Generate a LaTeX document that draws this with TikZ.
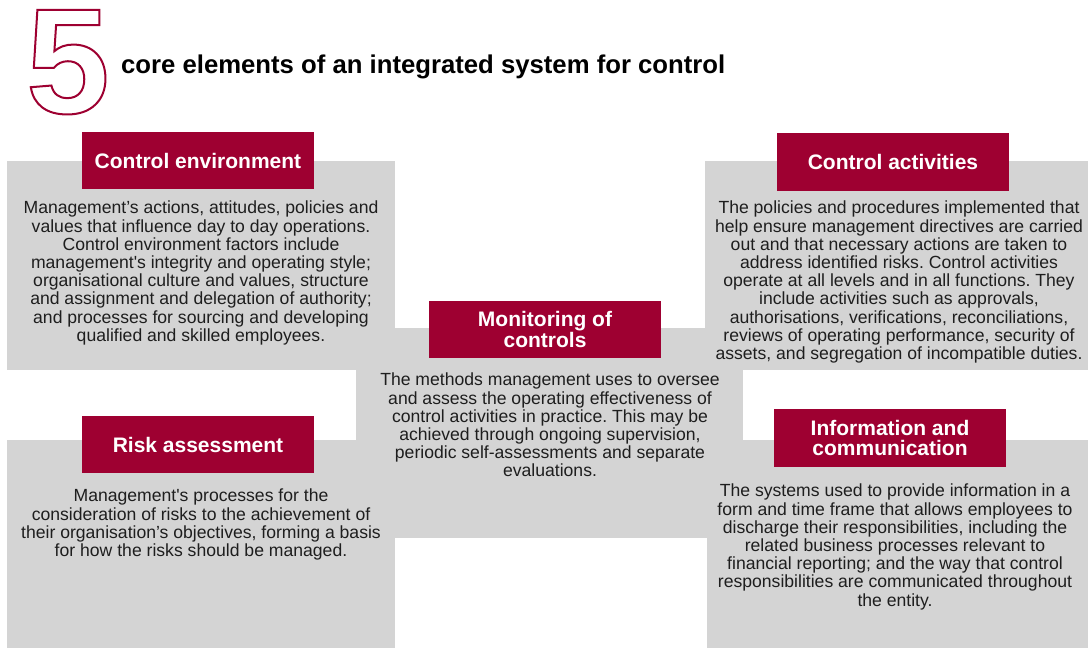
\documentclass[tikz,border=0pt]{standalone}
\usepackage{fontspec}
\newfontfamily\arialish{Liberation Sans}
\definecolor{brandred}{RGB}{158,0,49}
\definecolor{panelgrey}{RGB}{212,212,212}
\definecolor{bodyink}{RGB}{30,30,30}
\frenchspacing
% stroke the glyph outline instead of filling it
\newcommand\outlined[1]{\special{pdf:literal direct 1 Tr 2 w}#1\special{pdf:literal direct 0 Tr}}

\begin{document}
\begin{tikzpicture}[x=1pt,y=-1pt,
  panel/.style={fill=panelgrey},
  header/.style={fill=brandred, text=white,
    font=\arialish\bfseries\fontsize{21}{20.7}\selectfont,
    minimum width=232pt, minimum height=57pt, inner sep=0pt, align=center},
  body/.style={text=bodyink, font=\arialish\fontsize{17.6}{18.2}\selectfont,
    align=center, inner sep=0pt, anchor=north},
  bignum/.style={font=\arialish\bfseries\fontsize{150}{150}\selectfont,
    anchor=base west, inner sep=0pt},
]
\useasboundingbox (0,0) rectangle (1088,648);
\fill[white] (0,0) rectangle (1088,648);

% grey panels behind each element
\fill[panel] (7,161) rectangle (395,370);
\fill[panel] (705,161) rectangle (1088,370);
\fill[panel] (7,440) rectangle (395,648);
\fill[panel] (707,440) rectangle (1088,648);
\fill[panel] (356,328) rectangle (743,538);

% outlined numeral
\node[bignum, text=brandred] (five) at (26,113) {\outlined{5}};

\node[anchor=base west, inner sep=0pt, text=black,
  font=\arialish\bfseries\fontsize{25.7}{28}\selectfont] (title) at (121,73)
  {core elements of an integrated system for control};

% headers
\node[header] (ce) at (198,160.5) {Control environment};
\node[header] (mon) at (545,329.5) {Monitoring of\\controls};
\node[header, minimum height=58pt] (ca) at (893,162) {Control activities};
\node[header] (ra) at (198,444.5) {Risk assessment};
\node[header, minimum height=58pt] (ic) at (890,438) {Information and\\communication};

% descriptions
\node[body] (cetext) at (201,201) {Management’s actions, attitudes, policies and\\
values that influence day to day operations.\\
Control environment factors include\\
management's integrity and operating style;\\
organisational culture and values, structure\\
and assignment and delegation of authority;\\
and processes for sourcing and developing\\
qualified and skilled employees.};

\node[body] (catext) at (899,201) {The policies and procedures implemented that\\
help ensure management directives are carried\\
out and that necessary actions are taken to\\
address identified risks. Control activities\\
operate at all levels and in all functions. They\\
include activities such as approvals,\\
authorisations, verifications, reconciliations,\\
reviews of operating performance, security of\\
assets, and segregation of incompatible duties.};

\node[body] (montext) at (550,373) {The methods management uses to oversee\\
and assess the operating effectiveness of\\
control activities in practice. This may be\\
achieved through ongoing supervision,\\
periodic self-assessments and separate\\
evaluations.};

\node[body] (ratext) at (201,489) {Management's processes for the\\
consideration of risks to the achievement of\\
their organisation’s objectives, forming a basis\\
for how the risks should be managed.};

\node[body] (ictext) at (895,484) {The systems used to provide information in a\\
form and time frame that allows employees to\\
discharge their responsibilities, including the\\
related business processes relevant to\\
financial reporting; and the way that control\\
responsibilities are communicated throughout\\
the entity.};
\end{tikzpicture}
\end{document}
